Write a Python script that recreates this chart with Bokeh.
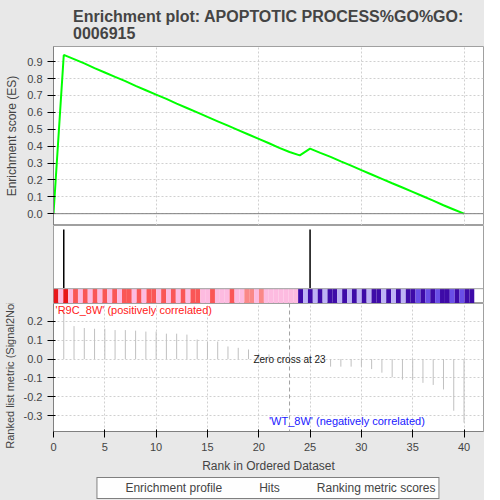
import numpy as np
from bokeh.plotting import figure
from bokeh.layouts import column
from bokeh.models import Range1d, Label, Span, Legend, LegendItem, NumeralTickFormatter
from bokeh.embed import file_html
from bokeh.resources import INLINE

ranks = list(range(0, 41))
es = [0.0, 0.94, 0.915, 0.89, 0.862, 0.836, 0.81, 0.785, 0.757, 0.731, 0.705,
      0.68, 0.652, 0.626, 0.6, 0.573, 0.547, 0.521, 0.495, 0.469, 0.443,
      0.417, 0.39, 0.365, 0.345, 0.385, 0.36, 0.336, 0.31, 0.285, 0.258,
      0.232, 0.206, 0.18, 0.155, 0.129, 0.103, 0.077, 0.05, 0.025, 0.0]
hits = [1, 25]
metric_ranks = list(range(1, 41))
metric = [0.26, 0.175, 0.165, 0.161, 0.161, 0.154, 0.154, 0.151, 0.146, 0.146,
          0.135, 0.135, 0.13, 0.104, 0.093, 0.093, 0.067, 0.06, 0.051, 0.03,
          0.025, 0.005, 0.0, -0.002, 0.0, -0.014, -0.04, -0.04, -0.04, -0.04,
          -0.053, -0.072, -0.096, -0.109, -0.112, -0.126, -0.137, -0.161,
          -0.274, -0.337]
bar_colors = (["#e8161a", "#fdbbe0", "#e8161a", "#fdbbe0", "#fa5656", "#fdbbe0",
               "#fa5656", "#fdbbe0", "#fa5656", "#fdbbe0", "#fa5656", "#fdbbe0",
               "#fa5656", "#fdbbe0", "#fa5656", "#fa5656", "#fdbbe0", "#fa5656",
               "#fdbbe0", "#fa5656", "#fa5656", "#fdbbe0", "#fa5656", "#fdbbe0",
               "#fa5656", "#fdbbe0", "#fa5656", "#fdbbe0", "#fa5656", "#fa5656",
               "#fdbbe0", "#fdbbe0", "#fa5656", "#fdbbe0", "#fdbbe0", "#fdbbe0",
               "#fa5656", "#fdbbe0", "#fdbbe0", "#fa8888", "#fa8888", "#fdbbe0",
               "#fa8888"] + ["#fdbbe0"] * 7 +
              ["#3e0ba8", "#bdb2f5", "#3e0ba8", "#bdb2f5", "#3e0ba8", "#bdb2f5",
               "#3e0ba8", "#3e0ba8", "#bdb2f5", "#3e0ba8", "#bdb2f5", "#3e0ba8",
               "#bdb2f5", "#3e0ba8", "#bdb2f5", "#3e0ba8", "#3e0ba8", "#bdb2f5",
               "#3e0ba8", "#bdb2f5", "#3e0ba8", "#bdb2f5", "#3e0ba8", "#3e0ba8",
               "#6a4ee8", "#3e0ba8", "#6a4ee8", "#3e0ba8", "#6a4ee8", "#3e0ba8",
               "#3e0ba8", "#6a4ee8", "#3e0ba8", "#6a4ee8", "#3e0ba8", "#3e0ba8"])

BG = "#e8e8e8"
GRID = "#d0d0d0"
xr = Range1d(0, 41.9)


def style(p):
    p.border_fill_color = BG
    p.outline_line_color = "#a0a0a0"
    p.grid.grid_line_color = GRID
    p.grid.grid_line_dash = "2 2"
    p.axis.major_label_text_font_size = "11px"
    p.axis.axis_label_text_font_size = "12px"
    p.axis.axis_label_text_font_style = "normal"
    p.axis.axis_line_color = "#808080"
    p.axis.minor_tick_line_color = None


p1 = figure(width=484, height=225, x_range=xr, y_range=Range1d(-0.07, 0.99),
            output_backend="svg", toolbar_location=None,
            min_border_left=49, min_border_right=1, min_border_bottom=0, min_border_top=39)
p1.title.text = "Enrichment plot: APOPTOTIC PROCESS%GO%GO:\n0006915"
p1.title.text_font_size = "16px"
p1.title.align = "center"
p1.title.offset = -20
style(p1)
p1.xaxis.visible = False
p1.yaxis.ticker = [0.0, 0.1, 0.2, 0.3, 0.4, 0.5, 0.6, 0.7, 0.8, 0.9]
p1.yaxis.formatter = NumeralTickFormatter(format="0.0")
p1.yaxis.axis_label = "Enrichment score (ES)"
p1.add_layout(Span(location=0, dimension="width", line_color="#808080", line_width=1))
p1.line(ranks, es, line_color="#00ff00", line_width=2)

n = len(bar_colors)
edges = np.linspace(0, 41, n + 1)
p2 = figure(width=484, height=78, x_range=xr, y_range=Range1d(0, 1),
            output_backend="svg", toolbar_location=None,
            min_border_left=49, min_border_right=1, min_border_bottom=0, min_border_top=0)
style(p2)
p2.axis.visible = False
p2.grid.visible = False
p2.segment(x0=hits, x1=hits, y0=[0.2] * len(hits), y1=[0.95] * len(hits),
           line_color="black", line_width=1.5)
p2.quad(left=edges[:-1], right=edges[1:], bottom=0, top=0.19,
        fill_color=bar_colors, line_color=None)
p2.add_layout(Span(location=0.19, dimension="width", line_color="#a0a0a0", line_width=1))

p3 = figure(width=484, height=172, x_range=xr, y_range=Range1d(-0.384, 0.295),
            output_backend="svg", toolbar_location=None,
            min_border_left=49, min_border_right=1, min_border_bottom=32, min_border_top=0)
style(p3)
p3.yaxis.ticker = [-0.3, -0.2, -0.1, 0.0, 0.1, 0.2]
p3.yaxis.formatter = NumeralTickFormatter(format="0.0")
p3.xaxis.ticker = [0, 5, 10, 15, 20, 25, 30, 35, 40]
p3.yaxis.axis_label = "Ranked list metric (Signal2Noise)"
p3.yaxis.axis_label_text_font_size = "11px"
p3.xaxis.axis_label = "Rank in Ordered Dataset"
p3.segment(x0=metric_ranks, x1=metric_ranks, y0=[0] * len(metric), y1=metric,
           line_color="#c0c0c0", line_width=1)
p3.add_layout(Span(location=23, dimension="height", line_color="#a0a0a0", line_dash="4 3"))
p3.add_layout(Label(x=23, y=-0.03, text="Zero cross at 23", text_align="center",
                    text_font_size="10px", text_color="#202020"))
p3.add_layout(Label(x=0.2, y=0.23, text="'R9C_8W' (positively correlated)",
                    text_font_size="11px", text_color="#ff2020"))
p3.add_layout(Label(x=21, y=-0.36, text="'WT_8W' (negatively correlated)",
                    text_font_size="11px", text_color="#2020ff"))

p4 = figure(width=484, height=26, output_backend="svg", toolbar_location=None,
            min_border=0, x_range=Range1d(0, 1), y_range=Range1d(0, 1))
p4.border_fill_color = BG
p4.background_fill_color = BG
p4.outline_line_color = None
p4.axis.visible = False
p4.grid.visible = False
r1 = p4.line([], [], line_color="#00ff00", line_width=2)
r2 = p4.line([], [], line_color="black", line_width=1.5)
r3 = p4.line([], [], line_color="#c0c0c0", line_width=1)
leg = Legend(items=[LegendItem(label="Enrichment profile", renderers=[r1]),
                    LegendItem(label="Hits", renderers=[r2]),
                    LegendItem(label="Ranking metric scores", renderers=[r3])],
             orientation="horizontal", location="center", label_text_font_size="12px",
             padding=3, margin=0, spacing=12, border_line_color="black",
             label_height=14, glyph_height=14)
p4.add_layout(leg, "center")

layout = column(p1, p2, p3, p4, spacing=0)
layout.styles = {"background-color": BG}
open("out.html", "w").write(file_html(layout, INLINE))
